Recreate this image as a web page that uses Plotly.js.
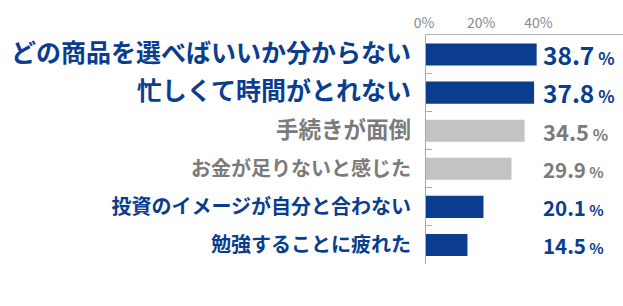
<!DOCTYPE html>
<html><head><meta charset="utf-8">
<script src="https://cdn.plot.ly/plotly-3.0.1.min.js"></script>
<style>html,body{margin:0;padding:0;background:#fff}</style>
</head><body><div id="chart" style="width:623px;height:306px"></div>
<script>
// ---- data ----
const categories = ['どの商品を選べばいいか分からない','忙しくて時間がとれない','手続きが面倒','お金が足りないと感じた','投資のイメージが自分と合わない','勉強することに疲れた'];
const values = [38.7, 37.8, 34.5, 29.9, 20.1, 14.5];
const xTickVals = [0, 20, 40];
const xTickText = ['0%', '20%', '40%'];

// ---- styles ----
const BLUE = '#0b3d8f', GREY_TEXT = '#7b7b7b', GREY_BAR = '#c3c3c3';
const rowStyle = [
  {text: BLUE, bar: BLUE, size: 25, vsize: 24.5, psize: 17},
  {text: BLUE, bar: BLUE, size: 25, vsize: 24.5, psize: 17},
  {text: GREY_TEXT, bar: GREY_BAR, size: 22.5, vsize: 22, psize: 16},
  {text: GREY_TEXT, bar: GREY_BAR, size: 20, vsize: 20.5, psize: 15},
  {text: BLUE, bar: BLUE, size: 20, vsize: 20.5, psize: 15},
  {text: BLUE, bar: BLUE, size: 20, vsize: 20.5, psize: 15}
];
const FONT = '"Noto Sans CJK JP", "Noto Sans", sans-serif';

const trace = {
  type: 'bar', orientation: 'h',
  x: values, y: categories,
  marker: {color: rowStyle.map(s => s.bar)},
  hoverinfo: 'none'
};

const annotations = values.map((v, i) => ({
  xref: 'paper', yref: 'y', x: (541 - 426) / (623 - 426), y: categories[i],
  xanchor: 'left', yanchor: 'middle', showarrow: false,
  text: `<b>${v.toFixed(1)}</b><span style="font-size:${rowStyle[i].psize}px"> %</span>`,
  font: {family: FONT, size: rowStyle[i].vsize, color: rowStyle[i].text, weight: 700}
}));

const layout = {
  width: 623, height: 306,
  margin: {l: 426, r: 0, t: 35, b: 42, pad: 0},
  paper_bgcolor: '#fff', plot_bgcolor: '#fff',
  bargap: 0.42,
  showlegend: false,
  xaxis: {
    side: 'top', range: [0, 68.9], fixedrange: true,
    tickvals: xTickVals, ticktext: xTickText,
    ticks: '', showgrid: false, zeroline: false,
    showline: true, linecolor: '#b4b4b4', linewidth: 1,
    tickfont: {family: FONT, size: 14, color: '#8a8a8a'},
    ticklabelshift: -2
  },
  yaxis: {
    type: 'category', autorange: 'reversed', fixedrange: true,
    tickvals: categories,
    ticktext: categories.map((c, i) => `<span style="fill:${rowStyle[i].text};font-size:${rowStyle[i].size}px">${c}</span>`),
    tickson: 'boundaries', ticks: 'inside', ticklen: 6, tickcolor: '#aaaaaa', tickwidth: 1,
    showline: true, linecolor: '#a8a8a8', linewidth: 1,
    showgrid: false, zeroline: false,
    ticklabelstandoff: 10,
    tickfont: {family: FONT, size: 20, color: BLUE, weight: 700}
  },
  annotations: annotations
};

Plotly.newPlot('chart', [trace], layout, {displayModeBar: false, staticPlot: true});
</script>
</body></html>
